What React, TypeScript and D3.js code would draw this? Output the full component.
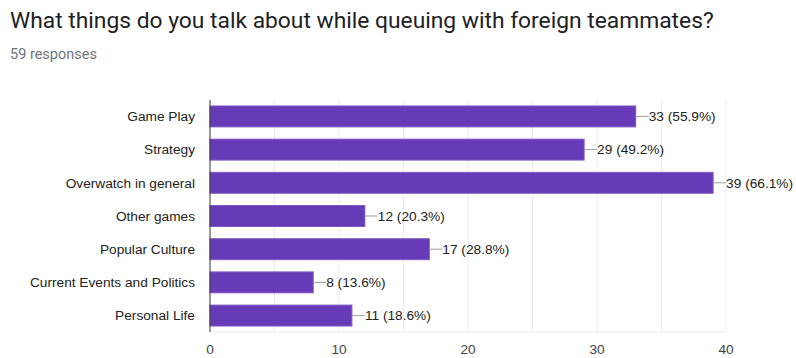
import React from "react";
import * as d3 from "d3";

const categories = [
  "Game Play",
  "Strategy",
  "Overwatch in general",
  "Other games",
  "Popular Culture",
  "Current Events and Politics",
  "Personal Life",
];
const counts = [33, 29, 39, 12, 17, 8, 11];
const percents = ["55.9%", "49.2%", "66.1%", "20.3%", "28.8%", "13.6%", "18.6%"];
const xTicks = [0, 10, 20, 30, 40];
const gridValues = [5, 10, 15, 20, 25, 30, 35, 40];
const title = "What things do you talk about while queuing with foreign teammates?";
const subtitle = "59 responses";

export default function App() {
  const W = 796, H = 358;
  const left = 210, right = 726, top = 100, bottom = 332;
  const x = d3.scaleLinear().domain([0, 40]).range([left, right]);
  const y = d3.scaleBand<string>().domain(categories).range([top, bottom]).paddingInner(0.37).paddingOuter(0.18);
  const font = "Roboto, Arial, sans-serif";
  const labelFont = "'Liberation Sans', Arial, sans-serif";
  const fs = 13.7;
  return (
    <svg width={W} height={H} style={{ position: "absolute", left: 0, top: 0, background: "#fff" }}>
      <text x={10} y={28} fontFamily={font} fontSize={22.8} fill="#202124">{title}</text>
      <text x={10} y={59} fontFamily={font} fontSize={14.5} fill="#70757a">{subtitle}</text>
      {gridValues.map((v) => (
        <line key={"g" + v} x1={x(v)} x2={x(v)} y1={top} y2={bottom} stroke="#ececec" strokeWidth={1} />
      ))}
      <line x1={left} x2={right} y1={bottom} y2={bottom} stroke="#ececec" strokeWidth={1} />
      {categories.map((c, i) => {
        const by = y(c)!;
        const bh = y.bandwidth();
        const ex = x(counts[i]);
        const cy = by + bh / 2;
        return (
          <g key={c}>
            <rect x={left} y={by} width={ex - left} height={bh} fill="#673ab7" stroke="#7e57c2" strokeWidth={1} />
            <line x1={ex} x2={ex + 13} y1={cy} y2={cy} stroke="#9e9e9e" strokeWidth={1} />
            <text x={ex + 13} y={cy} dy="0.35em" fontFamily={labelFont} fontSize={fs} fill="#222">
              {counts[i]} ({percents[i]})
            </text>
            <text x={left - 15} y={cy} dy="0.35em" textAnchor="end" fontFamily={labelFont} fontSize={fs} fill="#222">
              {c}
            </text>
          </g>
        );
      })}
      <line x1={left} x2={left} y1={top} y2={bottom} stroke="#333" strokeWidth={1} />
      {xTicks.map((t) => (
        <text key={"t" + t} x={x(t)} y={349} dy="0.35em" textAnchor="middle" fontFamily={labelFont} fontSize={fs} fill="#444">
          {t}
        </text>
      ))}
    </svg>
  );
}
